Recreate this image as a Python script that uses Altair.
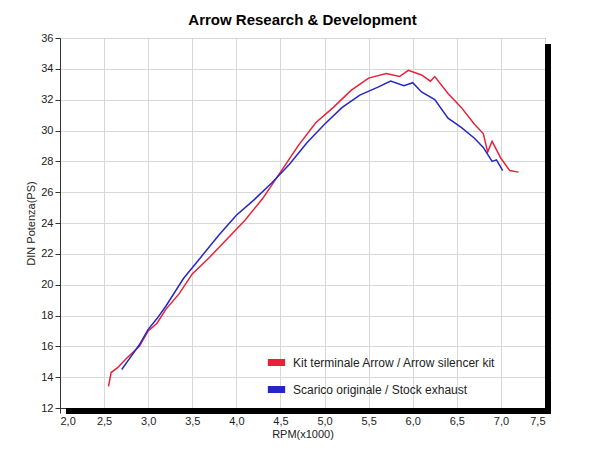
import altair as alt
import pandas as pd

red_x = [2.55, 2.58, 2.65, 2.75, 2.9, 3.0, 3.1, 3.2, 3.35, 3.5, 3.7, 3.9, 4.1, 4.3, 4.5, 4.7, 4.9, 5.1, 5.3, 5.5, 5.7, 5.85, 5.95, 6.1, 6.2, 6.25, 6.4, 6.55, 6.7, 6.8, 6.85, 6.9, 7.0, 7.1, 7.2]
red_y = [13.4, 14.3, 14.6, 15.2, 16.0, 17.0, 17.5, 18.4, 19.4, 20.7, 21.8, 23.0, 24.2, 25.6, 27.3, 29.0, 30.5, 31.5, 32.6, 33.4, 33.7, 33.5, 33.9, 33.6, 33.2, 33.5, 32.4, 31.5, 30.4, 29.8, 28.6, 29.3, 28.2, 27.4, 27.3]
blue_x = [2.7, 2.8, 2.9, 3.0, 3.1, 3.2, 3.4, 3.6, 3.8, 4.0, 4.2, 4.4, 4.6, 4.8, 5.0, 5.2, 5.4, 5.6, 5.75, 5.9, 6.0, 6.1, 6.25, 6.4, 6.55, 6.7, 6.8, 6.9, 6.95, 7.02]
blue_y = [14.5, 15.3, 16.1, 17.1, 17.8, 18.6, 20.4, 21.8, 23.2, 24.5, 25.5, 26.6, 27.8, 29.2, 30.4, 31.5, 32.3, 32.8, 33.2, 32.9, 33.1, 32.5, 32.0, 30.8, 30.2, 29.5, 28.9, 28.0, 28.1, 27.4]
s_red = "Kit terminale Arrow / Arrow silencer kit"
s_blue = "Scarico originale / Stock exhaust"

df = pd.concat([
    pd.DataFrame({"rpm": red_x, "ps": red_y, "serie": s_red, "o": range(len(red_x))}),
    pd.DataFrame({"rpm": blue_x, "ps": blue_y, "serie": s_blue, "o": range(len(blue_x))}),
])

W, H = 485, 370
lines = alt.Chart(df).mark_line(strokeWidth=1.5).encode(
    x=alt.X("rpm:Q", title="RPM(x1000)", scale=alt.Scale(domain=[2.0, 7.5], nice=False),
            axis=alt.Axis(values=[2.0 + 0.5 * i for i in range(12)], labelExpr="replace(format(datum.value, '.1f'), '.', ',')",
                          grid=True, gridColor="#d8d8d8", titlePadding=2)),
    y=alt.Y("ps:Q", title="DIN Potenza(PS)", scale=alt.Scale(domain=[12, 36], nice=False),
            axis=alt.Axis(values=list(range(12, 37, 2)), grid=True, gridColor="#d8d8d8")),
    color=alt.Color("serie:N", scale=alt.Scale(domain=[s_red, s_blue], range=["#e8213a", "#2626c8"]),
                    legend=alt.Legend(title=None, orient="none", legendX=204, legendY=312, symbolType="stroke",
                                      symbolSize=300, symbolStrokeWidth=7, labelFontSize=12, labelLimit=300,
                                      labelColor="#222", rowPadding=-10)),
    order="o:Q",
)

shadow = alt.Chart(pd.DataFrame({"a": [0]})).mark_rule(color="black", strokeWidth=6).encode(
    x=alt.value(W + 3), y=alt.value(6), y2=alt.value(H + 3))
shadow2 = alt.Chart(pd.DataFrame({"a": [0]})).mark_rule(color="black", strokeWidth=6).encode(
    x=alt.value(6), x2=alt.value(W + 6), y=alt.value(H + 3))

chart = alt.layer(lines, shadow, shadow2).properties(
    width=W, height=H, padding={"left": 17, "top": 5, "right": 5, "bottom": 5},
    title=alt.TitleParams("Arrow Research & Development", fontSize=15, fontWeight="bold", font="Liberation Sans"),
).configure_axis(labelFont="Liberation Sans", titleFont="Liberation Sans", labelFontSize=11, titleFontSize=11,
                 titleFontWeight="normal", labelColor="#222", titleColor="#222", domainColor="#333", tickColor="#333"
).configure_legend(labelFont="Liberation Sans").configure_view(stroke="#333")

chart.save("out.html", embed_options={"renderer": "svg", "actions": False})
